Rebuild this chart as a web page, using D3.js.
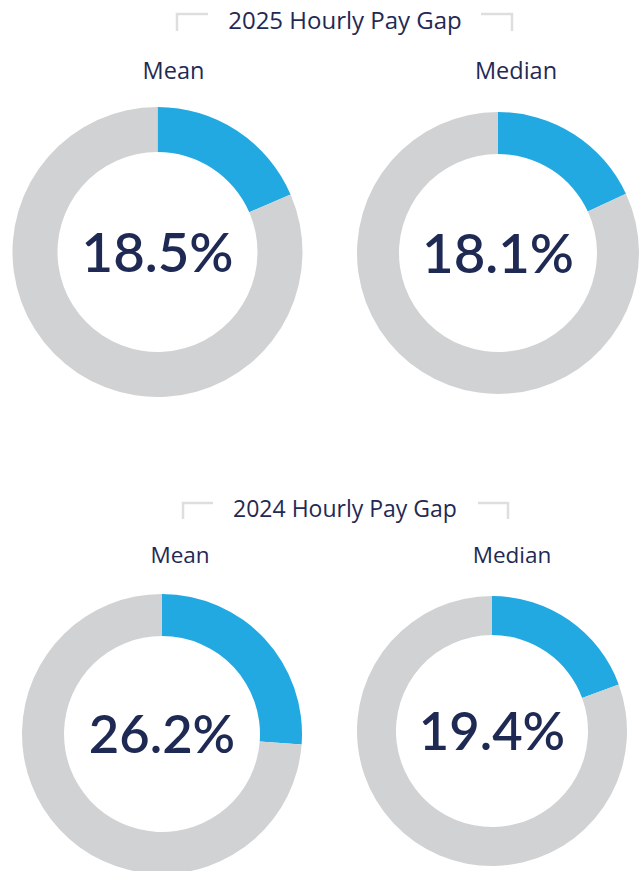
<!DOCTYPE html>
<html>
<head>
<meta charset="utf-8">
<script src="https://cdn.jsdelivr.net/npm/d3@7"></script>
<style>
  body { margin: 0; background: #fff; }
  svg { display: block; }
</style>
</head>
<body>
<svg id="chart" width="644" height="871"></svg>
<script>
// data
const titles = ["2025 Hourly Pay Gap", "2024 Hourly Pay Gap"];
const measures = ["Mean", "Median"];
const gap2025 = [18.5, 18.1];
const gap2024 = [26.2, 19.4];

const blue = "#23a9e1";
const grey = "#d1d2d4";
const navy = "#1f2a54";

const svg = d3.select("#chart");

// layout for each block (title + two donuts)
const blocks = [
    { values: gap2025, title: titles[0], titleX: 345, titleY: 29, fs: 24, lfs: 23.5, bracket: [177, 208, 481, 512], bracketY: 14, bracketH: 17,
      labelY: 79, labelX: [173.5, 516],
      donuts: [ { cx: 157.5, cy: 252, ro: 145, ri: 100 }, { cx: 498, cy: 253, ro: 141, ri: 99 } ], numSize: 54.5 },
    { values: gap2024, title: titles[1], titleX: 345, titleY: 517, fs: 23, lfs: 22.5, bracket: [183, 213, 478, 508], bracketY: 503, bracketH: 16,
      labelY: 563, labelX: [180, 512],
      donuts: [ { cx: 162, cy: 734, ro: 140, ri: 98 }, { cx: 492, cy: 731, ro: 135, ri: 96 } ], numSize: 52.5 }
];

const pie = d3.pie().sort(null).value(d => d);

blocks.forEach(b => {
    const g = svg.append("g");

    // bracket decoration either side of the title
    const [l1, l2, r1, r2] = b.bracket;
    g.append("path")
        .attr("d", `M${l1},${b.bracketY + b.bracketH}V${b.bracketY}H${l2}`)
        .attr("fill", "none")
        .attr("stroke", "#dedede")
        .attr("stroke-width", 2.5);
    g.append("path")
        .attr("d", `M${r1},${b.bracketY}H${r2}V${b.bracketY + b.bracketH}`)
        .attr("fill", "none")
        .attr("stroke", "#dedede")
        .attr("stroke-width", 2.5);

    g.append("text")
        .attr("x", b.titleX)
        .attr("y", b.titleY)
        .attr("text-anchor", "middle")
        .style("font-family", "'Open Sans', sans-serif")
        .style("font-size", b.fs + "px")
        .style("fill", navy)
        .text(b.title);

    b.values.forEach((v, i) => {
        const d = b.donuts[i];
        const arc = d3.arc().innerRadius(d.ri).outerRadius(d.ro);

        g.append("text")
            .attr("x", b.labelX[i])
            .attr("y", b.labelY)
            .attr("text-anchor", "middle")
            .style("font-family", "'Open Sans', sans-serif")
            .style("font-size", b.lfs + "px")
            .style("fill", navy)
            .text(measures[i]);

        const dg = g.append("g").attr("transform", `translate(${d.cx},${d.cy})`);
        dg.selectAll("path")
            .data(pie([v, 100 - v]))
            .enter().append("path")
            .attr("d", arc)
            .attr("fill", (p, k) => k === 0 ? blue : grey);

        dg.append("text")
            .attr("x", 0)
            .attr("y", b.numSize * 0.365)
            .attr("text-anchor", "middle")
            .style("font-family", "Lato, sans-serif")
            .style("font-weight", "600")
            .style("font-size", b.numSize + "px")
            .style("fill", navy)
            .text(v.toFixed(1) + "%");
    });
});
</script>
</body>
</html>
